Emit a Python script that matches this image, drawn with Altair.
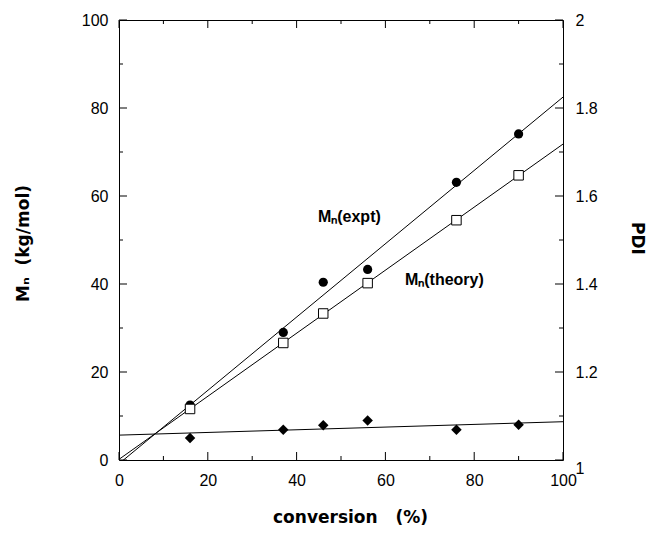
import altair as alt
import pandas as pd

# Measured series: number-average molecular weight and PDI versus conversion
conversion = [16, 37, 46, 56, 76, 90]
mn_expt = [12.5, 29.0, 40.4, 43.3, 63.1, 74.1]
mn_theory = [11.6, 26.6, 33.3, 40.2, 54.5, 64.7]
pdi = [1.050, 1.069, 1.079, 1.090, 1.069, 1.080]

# Tick values (major ticks carry labels, minor ticks are bare)
x_major = [0, 20, 40, 60, 80, 100]
x_minor = [10, 30, 50, 70, 90]
mn_major = [0, 20, 40, 60, 80, 100]
mn_minor = [10, 30, 50, 70, 90]
pdi_major = [1, 1.2, 1.4, 1.6, 1.8, 2]
pdi_minor = [1.1, 1.3, 1.5, 1.7, 1.9]

W, H = 444, 440
FONT = "Liberation Sans"
TITLE_FONT = "DejaVu Sans"
MAJOR, MINOR = 8, 4
NB = "\u00a0"

points = pd.DataFrame({
    "conversion": conversion,
    "mn_expt": mn_expt,
    "mn_theory": mn_theory,
    "pdi": pdi,
})

x_scale = alt.Scale(domain=[0, 100], nice=False, zero=False)
mn_scale = alt.Scale(domain=[0, 100], nice=False, zero=False)
pdi_scale = alt.Scale(domain=[1, 2], nice=False, zero=False)

label_style = dict(
    ticks=False, domain=False, grid=False,
    labelFont=FONT, labelFontSize=16, labelColor="black",
    titleFont=TITLE_FONT, titleFontSize=17, titleFontWeight="bold",
    titleColor="black", titleBaseline="alphabetic", titleAlign="center",
)

x_axis = alt.Axis(
    values=x_major, format="d", labelFlush=False, labelPadding=12,
    title=f"conversion{NB}{NB} (%)", titleX=231, titleY=62,
    **label_style,
)
mn_axis = alt.Axis(
    orient="left", values=mn_major, format="d", labelPadding=11,
    title=f"Mₙ{NB} (kg/mol)", titleAngle=270, titleX=-91, titleY=223,
    **label_style,
)
pdi_axis = alt.Axis(
    orient="right", values=pdi_major, format=".1~f", labelPadding=12,
    labelAlign="left",
    labelBaseline={"condition": {"test": "datum.value <= 1", "value": "top"},
                   "value": "middle"},
    title="PDI", titleAngle=90, titleX=68, titleY=218,
    **label_style,
)


def x_enc(field):
    return alt.X(f"{field}:Q", scale=x_scale, axis=x_axis)


def mn_enc(field):
    return alt.Y(f"{field}:Q", scale=mn_scale, axis=mn_axis)


def pdi_enc(field):
    return alt.Y(f"{field}:Q", scale=pdi_scale, axis=pdi_axis)


def fit_line(field, y_enc):
    return (
        alt.Chart(points)
        .transform_regression("conversion", field, extent=[0, 100])
        .mark_line(color="black", strokeWidth=1, clip=True)
        .encode(x=x_enc("conversion"), y=y_enc(field))
    )


def ticks_frame(values):
    return pd.DataFrame({"v": values})


# Inward tick marks on every side of the frame
def y_ticks(values, length, y_enc, side):
    xc = length / 2 if side == "left" else W - length / 2
    return (
        alt.Chart(ticks_frame(values))
        .mark_tick(color="black", orient="horizontal", size=length,
                   thickness=1, opacity=1)
        .encode(y=y_enc("v"), x=alt.value(xc))
    )


def x_ticks(values, length, side):
    yc = H - length / 2 if side == "bottom" else length / 2
    return (
        alt.Chart(ticks_frame(values))
        .mark_tick(color="black", orient="vertical", size=length,
                   thickness=1, opacity=1)
        .encode(x=x_enc("v"), y=alt.value(yc))
    )


expt_pts = alt.Chart(points).mark_point(
    shape="circle", filled=True, color="black", size=85, opacity=1
).encode(x=x_enc("conversion"), y=mn_enc("mn_expt"))

theory_pts = alt.Chart(points).mark_point(
    shape="square", filled=True, fill="white", stroke="black",
    strokeWidth=1, size=90, opacity=1
).encode(x=x_enc("conversion"), y=mn_enc("mn_theory"))

pdi_pts = alt.Chart(points).mark_point(
    shape="diamond", filled=True, color="black", size=110, opacity=1
).encode(x=x_enc("conversion"), y=pdi_enc("pdi"))

label_font = dict(font=FONT, fontSize=16, fontWeight="bold", color="black",
                  align="left", baseline="alphabetic")

expt_label = alt.Chart(points).mark_text(text="Mₙ(expt)", **label_font).encode(
    x=alt.datum(44.8), y=alt.datum(54.1)
)
theory_label = alt.Chart(points).mark_text(text="Mₙ(theory)", **label_font).encode(
    x=alt.datum(64.4), y=alt.datum(39.8)
)

mn_group = alt.layer(
    fit_line("mn_expt", mn_enc),
    fit_line("mn_theory", mn_enc),
    expt_pts,
    theory_pts,
    y_ticks(mn_major, MAJOR, mn_enc, "left"),
    y_ticks(mn_minor, MINOR, mn_enc, "left"),
    x_ticks(x_major, MAJOR, "bottom"),
    x_ticks(x_minor, MINOR, "bottom"),
    x_ticks(x_major, MAJOR, "top"),
    x_ticks(x_minor, MINOR, "top"),
    expt_label.transform_filter("datum.conversion == 16"),
    theory_label.transform_filter("datum.conversion == 16"),
)

pdi_group = alt.layer(
    fit_line("pdi", pdi_enc),
    pdi_pts,
    y_ticks(pdi_major, MAJOR, pdi_enc, "right"),
    y_ticks(pdi_minor, MINOR, pdi_enc, "right"),
)

chart = (
    alt.layer(mn_group, pdi_group)
    .resolve_scale(y="independent")
    .properties(
        width=W,
        height=H,
        autosize=alt.AutoSizeParams(type="none"),
        padding={"left": 119, "top": 20, "right": 84, "bottom": 76},
        background="white",
    )
    .configure_view(stroke="black", strokeWidth=1)
)

chart.save("out.html", embed_options={"renderer": "svg", "actions": False})
